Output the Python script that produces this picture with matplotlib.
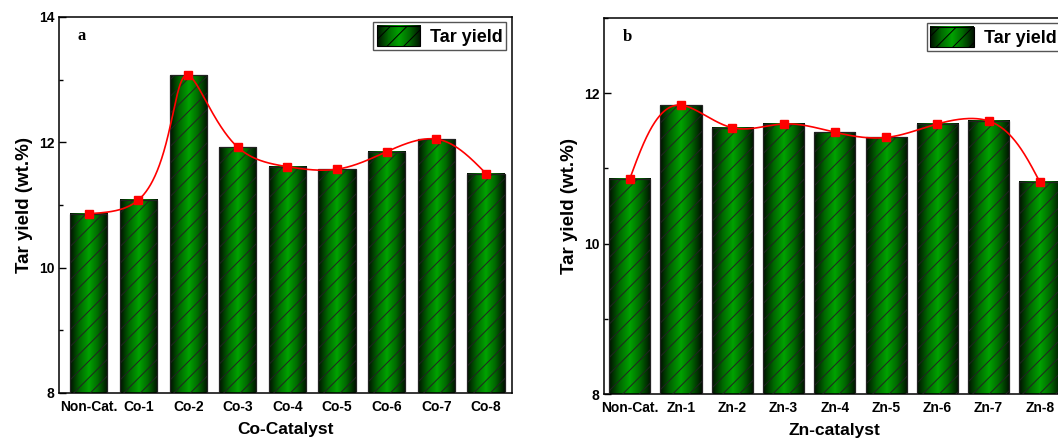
import matplotlib
matplotlib.use('Agg')
import matplotlib.pyplot as plt
import numpy as np
from matplotlib.colors import LinearSegmentedColormap
from matplotlib.legend_handler import HandlerBase
from matplotlib.image import BboxImage
from matplotlib.transforms import Bbox, TransformedBbox
from matplotlib.patches import Rectangle

plt.rcParams['font.family'] = ['Liberation Sans', 'DejaVu Sans']
plt.rcParams['font.weight'] = 'bold'
plt.rcParams['hatch.linewidth'] = 0.7

# data
co_labels = ['Non-Cat.', 'Co-1', 'Co-2', 'Co-3', 'Co-4', 'Co-5', 'Co-6', 'Co-7', 'Co-8']
co_tar = [10.86, 11.08, 13.07, 11.92, 11.61, 11.57, 11.85, 12.05, 11.50]
zn_labels = ['Non-Cat.', 'Zn-1', 'Zn-2', 'Zn-3', 'Zn-4', 'Zn-5', 'Zn-6', 'Zn-7', 'Zn-8']
zn_tar = [10.86, 11.84, 11.54, 11.59, 11.48, 11.41, 11.59, 11.63, 10.82]

# dark edge -> bright green centre -> dark edge
grad_cmap = LinearSegmentedColormap.from_list(
    'bar_grad', ['#001200', '#006800', '#00a300', '#006800', '#001200'])
grad = np.linspace(0, 1, 64).reshape(1, -1)


def natural_spline(t, y, ts):
    # natural cubic spline through (t, y), evaluated at ts
    t = np.asarray(t, float)
    y = np.asarray(y, float)
    k = len(t)
    h = np.diff(t)
    A = np.zeros((k, k))
    b = np.zeros(k)
    A[0, 0] = A[-1, -1] = 1
    for i in range(1, k - 1):
        A[i, i - 1] = h[i - 1]
        A[i, i] = 2 * (h[i - 1] + h[i])
        A[i, i + 1] = h[i]
        b[i] = 6 * ((y[i + 1] - y[i]) / h[i] - (y[i] - y[i - 1]) / h[i - 1])
    m = np.linalg.solve(A, b)
    idx = np.clip(np.searchsorted(t, ts) - 1, 0, k - 2)
    t0, t1 = t[idx], t[idx + 1]
    hh = t1 - t0
    a0, a1 = t1 - ts, ts - t0
    return (m[idx] * a0**3 + m[idx + 1] * a1**3) / (6 * hh) \
        + (y[idx] / hh - m[idx] * hh / 6) * a0 \
        + (y[idx + 1] / hh - m[idx + 1] * hh / 6) * a1


def parametric_spline(ax, x, y, n=600):
    # spline in screen space, chord-length parameter (Origin-like)
    fig = ax.figure
    fig.canvas.draw()
    pts = ax.transData.transform(np.column_stack([x, y]))
    d = np.hypot(*np.diff(pts, axis=0).T)
    t = np.concatenate([[0], np.cumsum(d)])
    ts = np.linspace(0, t[-1], n)
    px = natural_spline(t, pts[:, 0], ts)
    py = natural_spline(t, pts[:, 1], ts)
    return ax.transData.inverted().transform(np.column_stack([px, py])).T


class GradHandler(HandlerBase):
    def legend_artist(self, legend, orig_handle, fontsize, handlebox):
        x0, y0 = -handlebox.xdescent, -handlebox.ydescent
        w, h = handlebox.width, handlebox.height
        tr = handlebox.get_transform()
        bb = TransformedBbox(Bbox.from_bounds(x0, y0, w, h), tr)
        img = BboxImage(bb, cmap=grad_cmap, interpolation='bilinear')
        img.set_data(grad)
        handlebox.add_artist(img)
        rect = Rectangle((x0, y0), w, h, facecolor='none', edgecolor='black',
                         hatch='//', lw=0.8, transform=tr)
        handlebox.add_artist(rect)
        return rect


def add_panel(ax, labels, values, width, ylim, xlim, ticks, minors, xlabel, letter):
    x = np.arange(len(values))
    for xi, v in zip(x, values):
        ax.imshow(grad, extent=[xi - width / 2, xi + width / 2, ylim[0], v],
                  aspect='auto', cmap=grad_cmap, interpolation='bilinear', zorder=2)
    bars = ax.bar(x, values, width, facecolor='none', edgecolor='#222222',
                  hatch='//', lw=0.9, zorder=3, label='Tar yield')

    ax.set_xlim(xlim)
    ax.set_ylim(ylim)

    xs, ys = parametric_spline(ax, x, values)
    ax.plot(xs, ys, color='red', lw=1.2, zorder=4)
    ax.plot(x, values, ls='none', marker='s', ms=6, color='red', zorder=5)

    ax.set_xlim(xlim)
    ax.set_ylim(ylim)
    ax.set_xticks(x)
    ax.set_xticklabels(labels, fontsize=10, fontweight='bold')
    ax.set_yticks(ticks)
    ax.set_yticklabels([str(t) for t in ticks], fontsize=10, fontweight='bold')
    ax.set_yticks(minors, minor=True)
    ax.tick_params(axis='y', which='major', direction='in', length=5, width=1)
    ax.tick_params(axis='y', which='minor', direction='in', length=3, width=1)
    ax.tick_params(axis='x', length=0, pad=5)
    for s in ax.spines.values():
        s.set_linewidth(1.1)

    ax.set_xlabel(xlabel, fontsize=12.5, fontweight='bold', labelpad=6)
    ax.set_ylabel('Tar yield (wt.%)', fontsize=13.5, fontweight='bold', labelpad=4)
    ax.text(0.04, 0.95, letter, transform=ax.transAxes, fontsize=12,
            fontweight='bold', family='Liberation Serif', va='center')

    ax.legend(handles=[bars], labels=['Tar yield'], loc='upper right',
              handler_map={type(bars): GradHandler()},
              fontsize=13, fancybox=False, framealpha=1, edgecolor='#555555',
              handlelength=2.4, handleheight=1.35, handletextpad=0.55,
              borderpad=0.2, borderaxespad=0.3)


fig = plt.figure(figsize=(10.58, 4.43), dpi=100)
ax_a = fig.add_axes([0.0558, 0.1129, 0.428, 0.849])
ax_b = fig.add_axes([0.571, 0.1106, 0.436, 0.849])

add_panel(ax_a, co_labels, co_tar, 0.75, (8, 14), (-0.6, 8.52),
          [8, 10, 12, 14], [9, 11, 13], 'Co-Catalyst', 'a')
add_panel(ax_b, zn_labels, zn_tar, 0.8, (8, 13), (-0.5, 8.5),
          [8, 10, 12], [9, 11, 13], 'Zn-catalyst', 'b')

fig.savefig('out.png', dpi=100)
